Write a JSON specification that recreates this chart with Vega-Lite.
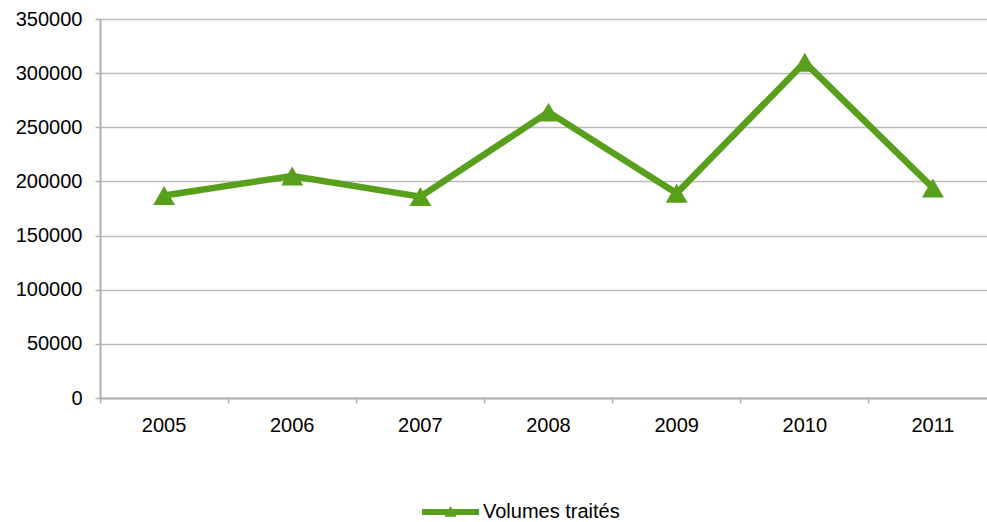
{
  "$schema": "https://vega.github.io/schema/vega-lite/v6.json",
  "width": 887,
  "height": 379,
  "autosize": {"type": "none"},
  "padding": {"left": 100, "top": 19, "right": 0, "bottom": 124},
  "background": "white",
  "config": {
    "view": {"stroke": null},
    "font": "Liberation Sans",
    "axis": {
      "labelFont": "Liberation Sans",
      "labelFontSize": 20,
      "labelColor": "#000000",
      "domainColor": "#b0b0b0",
      "tickColor": "#b0b0b0",
      "gridColor": "#bcbcbc",
      "title": null
    },
    "legend": {"labelFont": "Liberation Sans", "labelFontSize": 20, "labelColor": "#000000"}
  },
  "data": {
    "values": [
      {"year": "2005", "volume": 187000, "series": "Volumes traités"},
      {"year": "2006", "volume": 205000, "series": "Volumes traités"},
      {"year": "2007", "volume": 186000, "series": "Volumes traités"},
      {"year": "2008", "volume": 264000, "series": "Volumes traités"},
      {"year": "2009", "volume": 189000, "series": "Volumes traités"},
      {"year": "2010", "volume": 310000, "series": "Volumes traités"},
      {"year": "2011", "volume": 194000, "series": "Volumes traités"}
    ]
  },
  "layer": [
    {
      "mark": {"type": "line", "strokeWidth": 6.5, "strokeJoin": "miter"},
      "encoding": {
        "x": {
          "field": "year", "type": "ordinal",
          "scale": {"type": "band", "paddingInner": 0, "paddingOuter": 0, "range": [0, 897]},
          "axis": {"orient": "bottom", "ticks": false, "grid": false, "domain": true, "domainWidth": 2, "labelAngle": 0, "labelPadding": 17, "labelBaseline": "top"}
        },
        "y": {
          "field": "volume", "type": "quantitative",
          "scale": {"domain": [0, 350000], "nice": false},
          "axis": {
            "values": [0, 50000, 100000, 150000, 200000, 250000, 300000, 350000],
            "format": "d", "grid": true, "gridWidth": 1.5, "domainWidth": 2, "tickSize": 5, "tickWidth": 1.5, "labelPadding": 13
          }
        },
        "color": {
          "field": "series", "type": "nominal",
          "scale": {"range": ["#589f1b"]},
          "legend": {
            "title": null,
            "orient": "none",
            "legendX": 322,
            "legendY": 464.5,
            "padding": 0,
            "labelOffset": 4,
            "symbolSize": 3249,
            "symbolType": "M-1,-0.105 L1,-0.105 L1,0.105 L-1,0.105 Z M-0.21,0.165 L0,-0.21 L0.21,0.165 Z",
            "encode": {
              "symbols": {
                "update": {
                  "fill": {"value": "#589f1b"},
                  "stroke": {"value": "transparent"},
                  "strokeWidth": {"value": 0},
                  "opacity": {"value": 1},
                  "shape": {"value": "M-1,-0.105 L1,-0.105 L1,0.105 L-1,0.105 Z M-0.21,0.165 L0,-0.21 L0.21,0.165 Z"},
                  "size": {"value": 3249}
                }
              }
            }
          }
        }
      }
    },
    {
      "mark": {"type": "point", "shape": "triangle-up", "filled": true, "size": 480, "opacity": 1},
      "encoding": {
        "x": {
          "field": "year", "type": "ordinal",
          "axis": {"orient": "bottom", "ticks": true, "labels": false, "grid": false, "domain": false, "bandPosition": 0, "tickSize": 5, "tickWidth": 1.5}
        },
        "y": {"field": "volume", "type": "quantitative"},
        "color": {"field": "series", "type": "nominal"}
      }
    }
  ],
  "resolve": {"axis": {"x": "independent"}}
}
